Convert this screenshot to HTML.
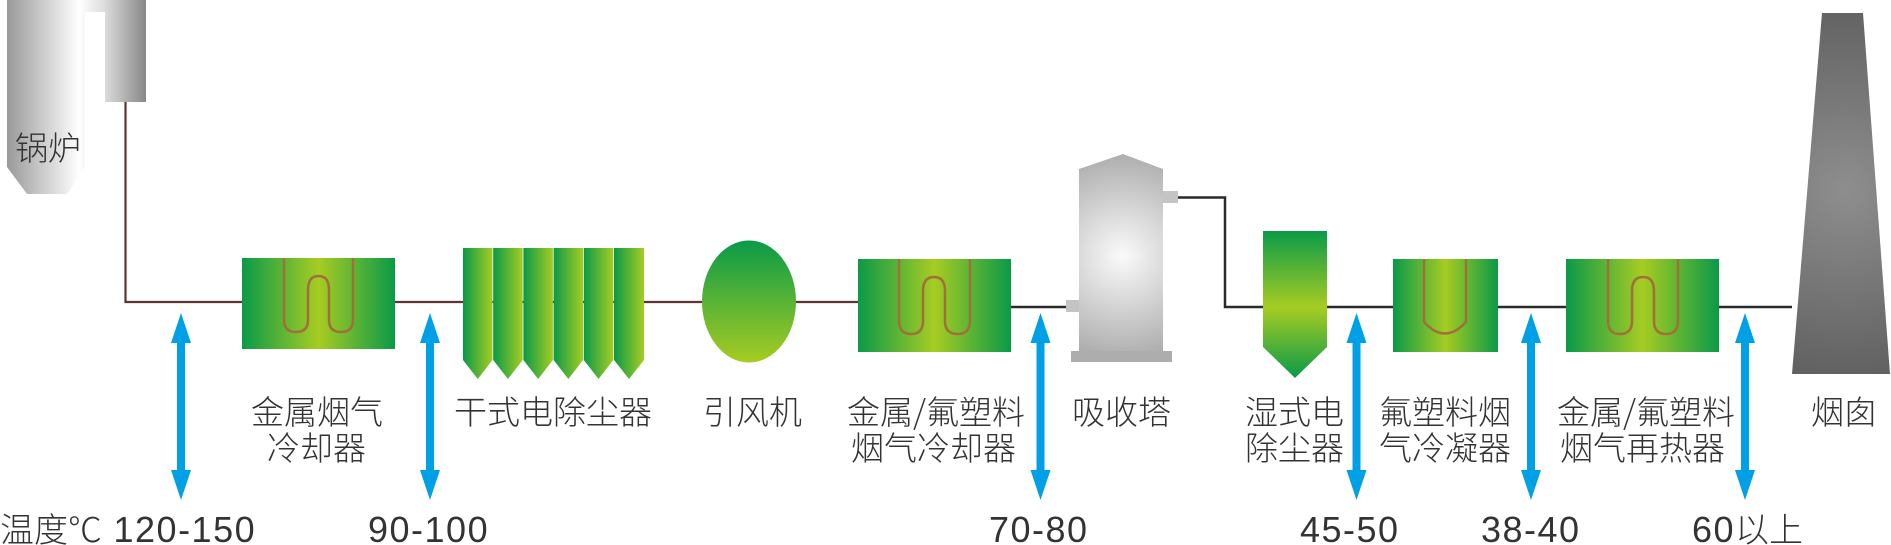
<!DOCTYPE html>
<html><head><meta charset="utf-8"><style>
html,body{margin:0;padding:0;background:#fff;}
svg{display:block;}
text{font-family:"Liberation Sans","Noto Sans CJK SC",sans-serif;fill:#333;}
.c{font-family:"Noto Sans CJK SC","WenQuanYi Zen Hei",sans-serif;font-size:33px;font-weight:300;}
.n{font-family:"Liberation Sans","Noto Sans CJK SC",sans-serif;font-size:36px;letter-spacing:1.5px;}
</style></head><body>
<svg width="1891" height="545" viewBox="0 0 1891 545" xmlns="http://www.w3.org/2000/svg">
<defs>
<linearGradient id="boiler" x1="7" y1="0" x2="146" y2="0" gradientUnits="userSpaceOnUse">
<stop offset="0" stop-color="#999"/><stop offset="0.52" stop-color="#fff"/><stop offset="0.7" stop-color="#ddd"/><stop offset="1" stop-color="#878787"/></linearGradient>
<linearGradient id="gh" x1="0" y1="0" x2="1" y2="0">
<stop offset="0" stop-color="#0a9a48"/><stop offset="0.5" stop-color="#a6cc22"/><stop offset="1" stop-color="#0a9a48"/></linearGradient>
<linearGradient id="gv" x1="0" y1="0" x2="0" y2="1">
<stop offset="0" stop-color="#0a9a48"/><stop offset="0.52" stop-color="#a6cc22"/><stop offset="1" stop-color="#0a9a48"/></linearGradient>
<linearGradient id="gcol" x1="0" y1="0" x2="1" y2="0">
<stop offset="0" stop-color="#0a9a48"/><stop offset="1" stop-color="#a6cc22"/></linearGradient>
<linearGradient id="gfan" x1="0" y1="0" x2="0" y2="1">
<stop offset="0" stop-color="#0a9a48"/><stop offset="1" stop-color="#a6cc22"/></linearGradient>
<radialGradient id="gray" cx="1122" cy="256" r="110" gradientUnits="userSpaceOnUse">
<stop offset="0" stop-color="#fafafa"/><stop offset="1" stop-color="#a8a8a8"/></radialGradient>
<radialGradient id="chim" cx="1845" cy="190" r="200" gradientUnits="userSpaceOnUse">
<stop offset="0" stop-color="#8e8e8e"/><stop offset="1" stop-color="#5e5e5e"/></radialGradient>
</defs>

<path d="M7,0 H146 V102 H105 V12 H85 V0 Z" fill="url(#boiler)"/>
<path d="M7,0 H85 V167 L67,194 H27 L7,167 Z" fill="url(#boiler)"/>
<text class="c" x="15" y="160">锅炉</text>

<path d="M125.5,102 V302 H858" fill="none" stroke="#5e3332" stroke-width="2.2"/>
<path d="M1011,307 H1066 M1178,197.5 H1225 V307 H1792" fill="none" stroke="#2a2a2a" stroke-width="2.5"/>

<rect x="242" y="258" width="153" height="91" fill="url(#gh)"/>
<path d="M284,258 V320 Q284,332 296,332 Q308,332 308,320 V290 Q308,276 318.5,276 Q329,276 329,290 V320 Q329,332 341,332 Q353,332 353,320 V258" fill="none" stroke="#a0703a" stroke-width="2.5"/>

<g fill="url(#gcol)">
<path d="M463,248 h29.5 v112 l-14.75,19 l-14.75,-19 z"/>
<path d="M493.2,248 h29.5 v112 l-14.75,19 l-14.75,-19 z"/>
<path d="M523.4,248 h29.5 v112 l-14.75,19 l-14.75,-19 z"/>
<path d="M553.6,248 h29.5 v112 l-14.75,19 l-14.75,-19 z"/>
<path d="M583.8,248 h29.5 v112 l-14.75,19 l-14.75,-19 z"/>
<path d="M614,248 h30 v112 l-15,19 l-15,-19 z"/>
</g>

<ellipse cx="749" cy="301.5" rx="47" ry="61" fill="url(#gfan)"/>

<rect x="858" y="259" width="153" height="93" fill="url(#gh)"/>
<path d="M899,259 V321 Q899,334 911,334 Q923,334 923,321 V291 Q923,277 934,277 Q945,277 945,291 V321 Q945,334 957.5,334 Q970,334 970,321 V259" fill="none" stroke="#a0703a" stroke-width="2.5"/>

<path d="M1079,169 L1123,154 L1163,169 V351 H1079 Z" fill="url(#gray)"/>
<rect x="1071" y="351" width="101" height="11" fill="#adadad"/>
<rect x="1066" y="300" width="13" height="12" fill="#c4c4c4"/>
<rect x="1163" y="191" width="15" height="12" fill="#c4c4c4"/>

<path d="M1263,231 H1327 V347 L1295,378 L1263,347 Z" fill="url(#gv)"/>

<rect x="1393" y="259" width="105" height="93" fill="url(#gh)"/>
<path d="M1424,259 V322 Q1445,345 1466,322 V259" fill="none" stroke="#a0703a" stroke-width="2.5"/>

<rect x="1566" y="259" width="153" height="93" fill="url(#gh)"/>
<path d="M1608,259 V321 Q1608,334 1620,334 Q1632,334 1632,321 V291 Q1632,277 1643,277 Q1654,277 1654,291 V321 Q1654,334 1666,334 Q1678,334 1678,321 V259" fill="none" stroke="#a0703a" stroke-width="2.5"/>

<path d="M1822,13 H1863 L1890,374 H1792 Z" fill="url(#chim)"/>

<g fill="#00a0e6">
<path d="M181,313 L191,343 H185 V470 H191 L181,500 L171,470 H177 V343 H171 Z"/>
<path d="M430,313 L440,343 H434 V470 H440 L430,500 L420,470 H426 V343 H420 Z"/>
<path d="M1040.5,313 L1050.5,343 H1044.5 V470 H1050.5 L1040.5,500 L1030.5,470 H1036.5 V343 H1030.5 Z"/>
<path d="M1356.5,313 L1366.5,343 H1360.5 V470 H1366.5 L1356.5,500 L1346.5,470 H1352.5 V343 H1346.5 Z"/>
<path d="M1531,313 L1541,343 H1535 V470 H1541 L1531,500 L1521,470 H1527 V343 H1521 Z"/>
<path d="M1745,313 L1755,343 H1749 V470 H1755 L1745,500 L1735,470 H1741 V343 H1735 Z"/>
</g>

<text class="c" x="251" y="424">金属烟气</text>
<text class="c" x="267" y="460">冷却器</text>
<text class="c" x="454" y="424">干式电除尘器</text>
<text class="c" x="703" y="424">引风机</text>
<text class="c" x="847" y="424">金属/氟塑料</text>
<text class="c" x="851" y="460">烟气冷却器</text>
<text class="c" x="1072" y="424">吸收塔</text>
<text class="c" x="1245" y="424">湿式电</text>
<text class="c" x="1245" y="460">除尘器</text>
<text class="c" x="1379" y="424">氟塑料烟</text>
<text class="c" x="1379" y="460">气冷凝器</text>
<text class="c" x="1557" y="424">金属/氟塑料</text>
<text class="c" x="1560" y="460">烟气再热器</text>
<text class="c" x="1811" y="424">烟囱</text>

<text class="n" x="0" y="542"><tspan class="c" style="font-size:34px;letter-spacing:0">温度℃</tspan> 120-150</text>
<text class="n" x="368" y="542">90-100</text>
<text class="n" x="989" y="542">70-80</text>
<text class="n" x="1300" y="542">45-50</text>
<text class="n" x="1481" y="542">38-40</text>
<text class="n" x="1692" y="542">60<tspan class="c" style="font-size:34px;letter-spacing:0">以上</tspan></text>
</svg>
</body></html>
